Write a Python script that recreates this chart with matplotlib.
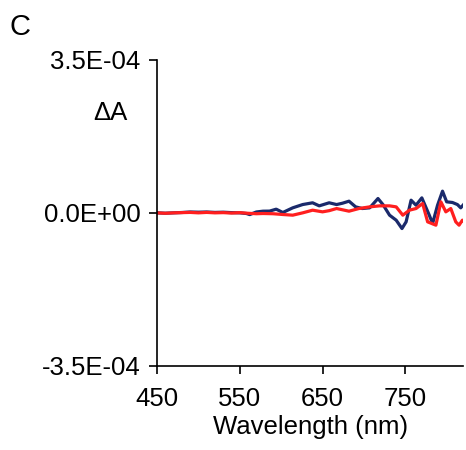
import numpy as np
from matplotlib import pyplot as plt

plt.rcParams['font.family'] = ['Liberation Sans', 'DejaVu Sans']

# wavelength (nm) and difference absorbance
wl_blue = [450, 460, 470, 480, 490, 500, 510, 520, 530, 540, 550, 558, 562, 570,
           578, 586, 594, 602, 614, 626, 638, 646, 658, 667, 674, 682, 690, 698,
           707, 717, 723, 731, 739, 746, 751, 757, 763, 770, 779, 783, 789, 795,
           800, 807, 813, 817, 820]
dA_blue = [0, -0.8, 0, 0.8, 2, 1.5, 2, 1, 1.5, 0.5, 0, -1.5, -4, 2,
           3.8, 4, 8.4, 0.8, 11.5, 19, 23, 16, 23, 19, 22, 26.7, 13.7, 9.9,
           11.5, 32.8, 19, -5.3, -16.8, -35.9, -20.6, 29, 17.5, 34.3, -5.3, -24.4, 17.5, 49.6,
           25.2, 23.7, 19, 11.5, 18]

wl_red = [450, 460, 470, 480, 490, 500, 510, 520, 530, 540, 550, 560, 570, 578,
          590, 602, 614, 626, 638, 650, 658, 667, 682, 694, 707, 719, 731, 739,
          747, 755, 763, 771, 777, 787, 793, 799, 805, 811, 815, 819, 820]
dA_red = [0, -1, 0, 0.5, 1, 0, 1, 0, 0.5, -0.5, 0.5, -1, -2, -1.5,
          -2, -3.8, -5.3, 0, 6.1, 2.3, 5, 9.9, 3.8, 9.9, 13.7, 16, 16, 13.7,
          -5.3, 6.1, 9.9, 21.4, -20.6, -28.2, 25.2, 2.3, 9.9, -20.6, -28.2, -16.8, -18]

x_ticks = [450, 550, 650, 750]
y_ticks = [-3.5e-4, 0, 3.5e-4]
y_labels = ['-3.5E-04', '0.0E+00', '3.5E-04']

fig = plt.figure(figsize=(4.66, 4.5), dpi=100)
ax = fig.add_axes([0.337, 0.187, 0.657, 0.68])

ax.plot(wl_blue, np.array(dA_blue) * 1e-6, color='#1b2a6b', lw=2.3)
ax.plot(wl_red, np.array(dA_red) * 1e-6, color='#ff1f1f', lw=2.3)

ax.set_xlim(450, 820)
ax.set_ylim(-3.5e-4, 3.5e-4)
ax.set_xticks(x_ticks)
ax.set_yticks(y_ticks)
ax.set_yticklabels(y_labels)
ax.spines['right'].set_visible(False); ax.spines['top'].set_visible(False)
for s in ['left', 'bottom']:
    ax.spines[s].set_linewidth(1.2)
ax.tick_params(axis='both', labelsize=18.5, width=1.2, length=6, direction='out')
ax.tick_params(axis='x', pad=9)
ax.tick_params(axis='y', pad=6)
ax.set_xlabel('Wavelength (nm)', fontsize=18.5, labelpad=3)

fig.text(0.236, 0.75, 'ΔA', fontsize=18.5, ha='center', va='center')
fig.text(0.043, 0.94, 'C', fontsize=21, ha='center', va='center')

fig.savefig('out.png', dpi=100)
